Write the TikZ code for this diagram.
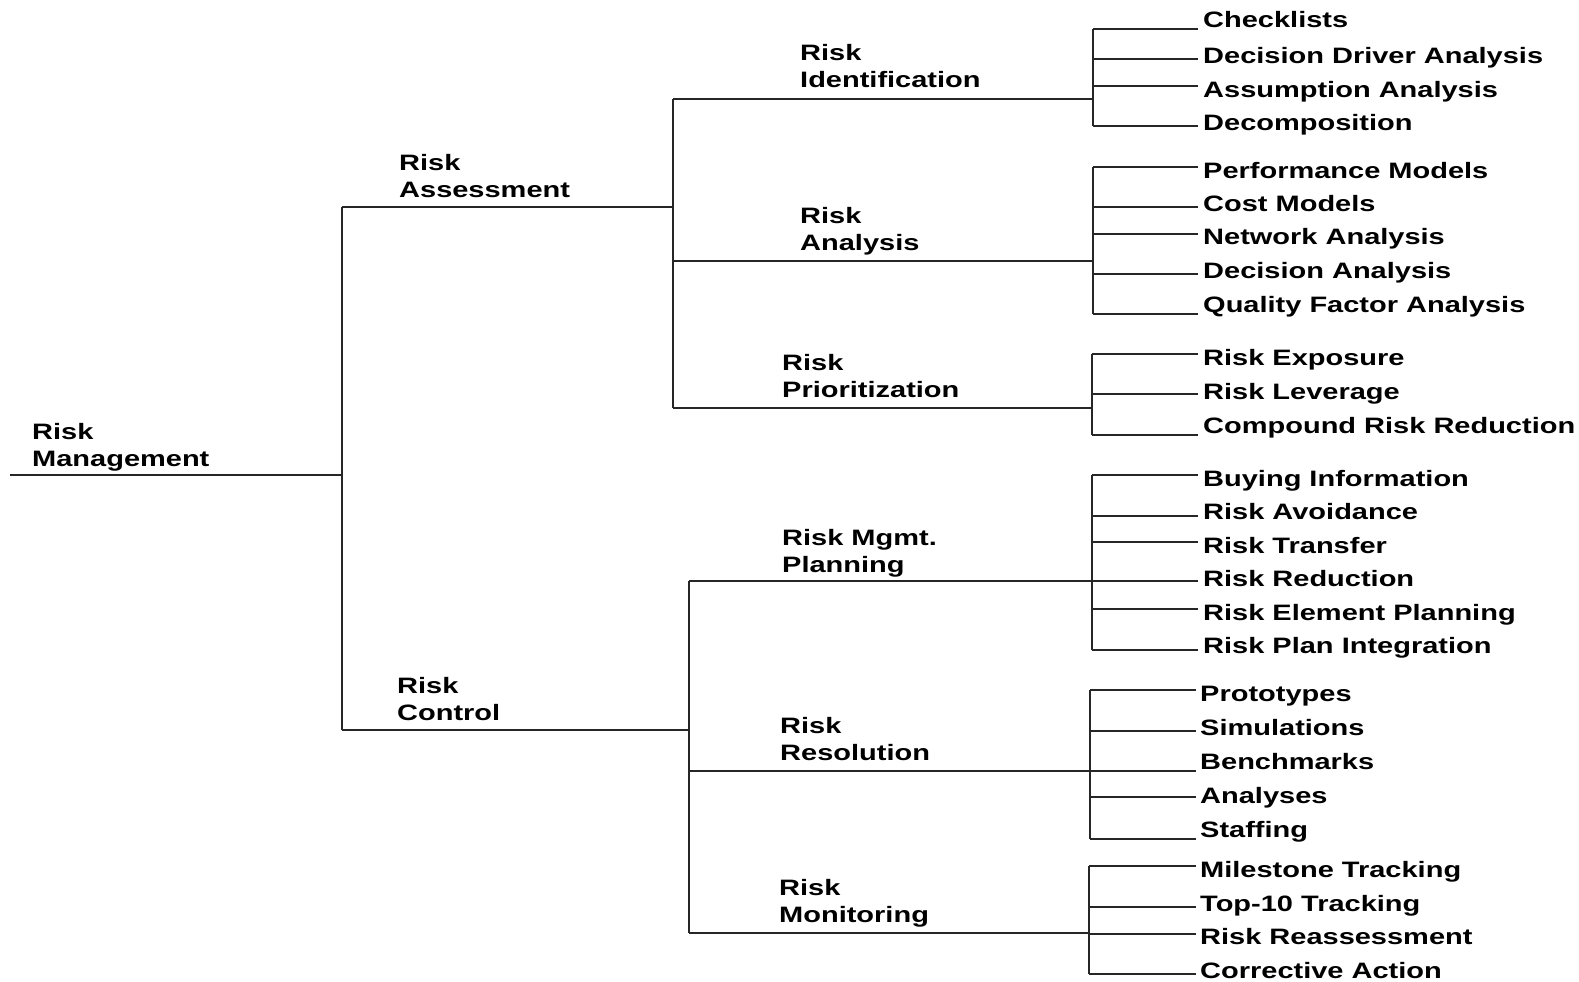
\documentclass[tikz,border=0pt]{standalone}
\usepackage{fontspec}
\setmainfont{Liberation Sans}[FakeStretch=1.3]
\begin{document}
\begin{tikzpicture}[x=1pt,y=-1pt,
  conn/.style={draw=black!85, line width=1.3pt},
  lbl/.style={anchor=base west, inner sep=0pt, align=left, font=\fontsize{22.3}{27}\selectfont\bfseries},
  leaf/.style={anchor=base west, inner sep=0pt, font=\fontsize{22.3}{27}\selectfont\bfseries}]
\useasboundingbox (0,0) rectangle (1579,982);

% intermediate labels (base = baseline of the last line)
\node[lbl] (rm)   at (32,466)  {Risk\\Management};
\node[lbl] (ra)   at (399,197) {Risk\\Assessment};
\node[lbl] (rc)   at (397,720) {Risk\\Control};
\node[lbl] (ri)   at (800,88)  {Risk\\Identification};
\node[lbl] (ran)  at (800,250) {Risk\\Analysis};
\node[lbl] (rp)   at (782,397) {Risk\\Prioritization};
\node[lbl] (rpl)  at (782,572) {Risk Mgmt.\\Planning};
\node[lbl] (rres) at (780,760) {Risk\\Resolution};
\node[lbl] (rmon) at (779,922) {Risk\\Monitoring};

% trunk
\coordinate (r0) at (10,475);  \coordinate (j0) at (342,475);
\coordinate (a0) at (342,207); \coordinate (a1) at (673,207);
\coordinate (c0) at (342,730); \coordinate (c1) at (689,730);
\draw[conn] (r0) -- (j0);
\draw[conn] (a0) -- (c0);
\draw[conn] (a0) -- (a1);
\draw[conn] (c0) -- (c1);

% assessment branch
\coordinate (i0) at (673,99);   \coordinate (i1) at (1093,99);
\coordinate (an0) at (673,261); \coordinate (an1) at (1093,261);
\coordinate (p0) at (673,408);  \coordinate (p1) at (1092,408);
\draw[conn] (i0) -- (p0);
\draw[conn] (i0) -- (i1);
\draw[conn] (an0) -- (an1);
\draw[conn] (p0) -- (p1);

% control branch
\coordinate (pl0) at (689,581); \coordinate (pl1) at (1092,581);
\coordinate (rs0) at (689,771); \coordinate (rs1) at (1090,771);
\coordinate (mo0) at (689,933); \coordinate (mo1) at (1089,933);
\draw[conn] (pl0) -- (mo0);
\draw[conn] (pl0) -- (pl1);
\draw[conn] (rs0) -- (rs1);
\draw[conn] (mo0) -- (mo1);

% leaves: identification
\coordinate (iT) at (1093,29); \coordinate (iB) at (1093,126);
\draw[conn] (iT) -- (iB);
\foreach \t/\ty/\ly [count=\k] in {Checklists/20/29, Decision Driver Analysis/56/59, Assumption Analysis/90/86, Decomposition/123/126}{
  \node[leaf] (idn\k) at (1203,\ty+7.5) {\t};
  \coordinate (idS\k) at (1093,\ly); \coordinate (idE\k) at (1198,\ly);
  \draw[conn] (idS\k) -- (idE\k);
}
% analysis
\coordinate (aT) at (1093,167); \coordinate (aB) at (1093,314);
\draw[conn] (aT) -- (aB);
\foreach \t/\ty/\ly [count=\k] in {Performance Models/171/167, Cost Models/204/207, Network Analysis/237/234, Decision Analysis/271/274, Quality Factor Analysis/305/314}{
  \node[leaf] (ann\k) at (1203,\ty+7.5) {\t};
  \coordinate (anS\k) at (1093,\ly); \coordinate (anE\k) at (1198,\ly);
  \draw[conn] (anS\k) -- (anE\k);
}
% prioritization
\coordinate (pT) at (1092,354); \coordinate (pB) at (1092,435);
\draw[conn] (pT) -- (pB);
\foreach \t/\ty/\ly [count=\k] in {Risk Exposure/358/354, Risk Leverage/392/394, Compound Risk Reduction/426/435}{
  \node[leaf] (prn\k) at (1203,\ty+7.5) {\t};
  \coordinate (prS\k) at (1092,\ly); \coordinate (prE\k) at (1198,\ly);
  \draw[conn] (prS\k) -- (prE\k);
}
% planning
\coordinate (plT) at (1092,475); \coordinate (plB) at (1092,650);
\draw[conn] (plT) -- (plB);
\foreach \t/\ty/\ly [count=\k] in {Buying Information/479/475, Risk Avoidance/512/516, Risk Transfer/546/542, Risk Reduction/579/581, Risk Element Planning/613/609, Risk Plan Integration/646/650}{
  \node[leaf] (pln\k) at (1203,\ty+7.5) {\t};
  \coordinate (plS\k) at (1092,\ly); \coordinate (plE\k) at (1198,\ly);
  \draw[conn] (plS\k) -- (plE\k);
}
% resolution
\coordinate (rsT) at (1090,690); \coordinate (rsB) at (1090,839);
\draw[conn] (rsT) -- (rsB);
\foreach \t/\ty/\ly [count=\k] in {Prototypes/694/690, Simulations/728/731, Benchmarks/762/771, Analyses/796/797, Staffing/830/839}{
  \node[leaf] (rsn\k) at (1200,\ty+7.5) {\t};
  \coordinate (rsS\k) at (1090,\ly); \coordinate (rsE\k) at (1196,\ly);
  \draw[conn] (rsS\k) -- (rsE\k);
}
% monitoring
\coordinate (moT) at (1089,866); \coordinate (moB) at (1089,974);
\draw[conn] (moT) -- (moB);
\foreach \t/\ty/\ly [count=\k] in {Milestone Tracking/870/866, Top-10 Tracking/904/907, Risk Reassessment/937/934, Corrective Action/971/974}{
  \node[leaf] (mon\k) at (1200,\ty+7.5) {\t};
  \coordinate (moS\k) at (1089,\ly); \coordinate (moE\k) at (1196,\ly);
  \draw[conn] (moS\k) -- (moE\k);
}
\end{tikzpicture}
\end{document}
